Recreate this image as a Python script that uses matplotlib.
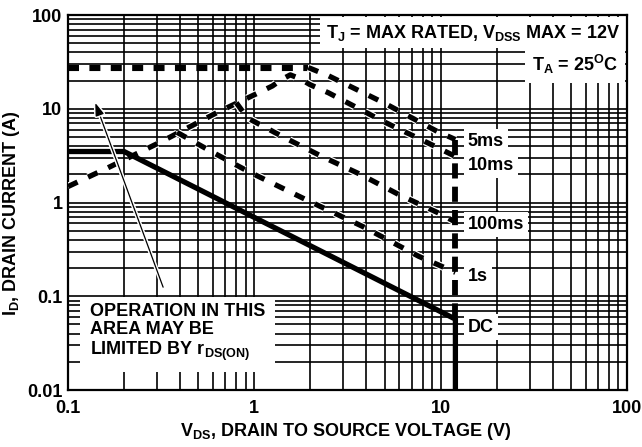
"""Maximum forward-bias safe operating area (SOA) chart, datasheet style."""

import matplotlib

matplotlib.use("Agg")
import matplotlib.pyplot as plt
import matplotlib.patheffects as pe
from matplotlib.ticker import FuncFormatter, LogLocator, NullFormatter

plt.rcParams["font.family"] = ["Liberation Sans", "DejaVu Sans"]
plt.rcParams["font.weight"] = "bold"
plt.rcParams["axes.labelweight"] = "bold"
plt.rcParams["font.size"] = 13
plt.rcParams["mathtext.default"] = "regular"

FS = 13
VDSS_MAX = 12  # V

# current limit (top, heavy dashes)
limit_v = [0.1, 1.95]
limit_i = [27.5, 27.5]

# pulse curves
ms5_v = [1.95, 2.5, 4.94, 9.64, 12]
ms5_i = [27.5, 22.5, 11.6, 5.7, 4.7]

ms10_v = [0.1, 0.164, 0.32, 0.63, 1.0, 1.25, 1.4, 1.56, 1.75, 2.0, 2.5, 4.94, 9.64, 12]
ms10_i = [1.48, 2.35, 4.5, 9.1, 14.1, 17.5, 20.5, 23.0, 21.0, 18.0, 14.8, 7.3, 3.85, 3.1]

ms100_v = [0.8, 0.917, 1.43, 2.32, 3.72, 5.94, 9.64, 12]
ms100_i = [11.6, 8.0, 5.0, 3.08, 1.99, 1.22, 0.78, 0.62]

s1_v = [0.385, 0.603, 0.93, 1.88, 3.81, 7.62, 12]
s1_i = [5.6, 3.4, 2.14, 1.08, 0.556, 0.267, 0.18]

dc_v = [0.1, 0.2, 12, 12]
dc_i = [3.5, 3.5, 0.057, 0.01]

# VDSS boundary (dashed) between the 5ms end and the DC end
vmax_i = [4.7, 0.06]

curve_labels = ["5ms", "10ms", "100ms", "1s", "DC"]
curve_label_i = [4.46, 2.48, 0.58, 0.163, 0.047]
LABEL_V = 14.0

ARROW_TIP = (0.14, 11.6)
ARROW_TAIL = (0.324, 0.125)

x_ticks = [0.1, 1, 10, 100]
y_ticks = [0.01, 0.1, 1, 10, 100]


def main():
    fig = plt.figure(figsize=(6.42, 4.47), dpi=100)
    ax = fig.add_axes([0.1059, 0.1275, 0.8707, 0.8389])
    ax.set_xscale("log")
    ax.set_yscale("log")
    ax.set_xlim(0.1, 100)
    ax.set_ylim(0.01, 100)

    ax.set_xticks(x_ticks)
    ax.set_yticks(y_ticks)
    ax.xaxis.set_minor_locator(LogLocator(base=10, subs=range(2, 10)))
    ax.yaxis.set_minor_locator(LogLocator(base=10, subs=range(2, 10)))
    fmt = FuncFormatter(lambda v, _: f"{v:g}")
    ax.xaxis.set_major_formatter(fmt)
    ax.yaxis.set_major_formatter(fmt)
    ax.xaxis.set_minor_formatter(NullFormatter())
    ax.yaxis.set_minor_formatter(NullFormatter())
    ax.tick_params(which="both", length=0)
    ax.tick_params(axis="x", pad=7, labelsize=FS)
    ax.tick_params(axis="y", pad=4, labelsize=FS)
    for lab in ax.get_xticklabels() + ax.get_yticklabels():
        lab.set_fontweight("bold")

    ax.grid(True, which="both", color="black", linewidth=1.2, zorder=0)
    ax.set_axisbelow(True)
    for sp in ax.spines.values():
        sp.set_linewidth(1.6)

    halo = [pe.withStroke(linewidth=5.5, foreground="white")]

    ax.plot(limit_v, limit_i, color="black", linewidth=4.4, linestyle=(0, (1.8, 1.7)),
            dash_capstyle="butt", zorder=4)
    for v, i in [(ms5_v, ms5_i), (ms10_v, ms10_i), (ms100_v, ms100_i), (s1_v, s1_i)]:
        ax.plot(v, i, color="black", linewidth=3.8, linestyle=(0, (2.0, 2.2)),
                dash_capstyle="butt", path_effects=halo, zorder=4)
    ax.plot([VDSS_MAX, VDSS_MAX], vmax_i, color="black", linewidth=4.2,
            linestyle=(0, (2.6, 1.4)), dash_capstyle="butt", zorder=4)
    ax.plot(dc_v, dc_i, color="black", linewidth=3.8, solid_joinstyle="miter",
            solid_capstyle="butt", zorder=4)

    box = dict(facecolor="white", edgecolor="none", pad=3)
    for text, i in zip(curve_labels, curve_label_i):
        ax.text(LABEL_V, i, text, ha="left", va="center", fontweight="bold",
                bbox=box, zorder=2)

    ax.text(0.9875, 0.953, "T$_J$ = MAX RATED, V$_{DSS}$ MAX = 12V",
            transform=ax.transAxes, ha="right", va="center", fontweight="bold",
            bbox=dict(facecolor="white", edgecolor="none", pad=4), zorder=2)
    ax.text(0.984, 0.867, "T$_A$ = 25$^O$C",
            transform=ax.transAxes, ha="right", va="center", fontweight="bold",
            bbox=dict(facecolor="white", edgecolor="none", pad=5), zorder=2)

    ax.text(0.0393, 0.153, "OPERATION IN THIS\nAREA MAY BE\nLIMITED BY r$_{DS(ON)}$",
            transform=ax.transAxes, ha="left", va="center", linespacing=1.1,
            fontweight="bold",
            bbox=dict(facecolor="white", edgecolor="none", pad=7), zorder=2)

    ax.annotate("", xy=ARROW_TIP, xytext=ARROW_TAIL,
                arrowprops=dict(arrowstyle="-|>,head_length=0.6,head_width=0.2",
                                color="black", lw=0.9, shrinkA=0, shrinkB=0,
                                path_effects=[pe.withStroke(linewidth=3, foreground="white")]),
                zorder=5)

    ax.set_xlabel("V$_{DS}$, DRAIN TO SOURCE VOLTAGE (V)", fontsize=FS, fontweight="bold")
    ax.set_ylabel("I$_D$, DRAIN CURRENT (A)", fontsize=FS, fontweight="bold")
    ax.xaxis.set_label_coords(0.496, -0.083)
    ax.yaxis.set_label_coords(-0.082, 0.472)

    fig.savefig("out.png", dpi=100)
    plt.close(fig)


if __name__ == "__main__":
    main()
